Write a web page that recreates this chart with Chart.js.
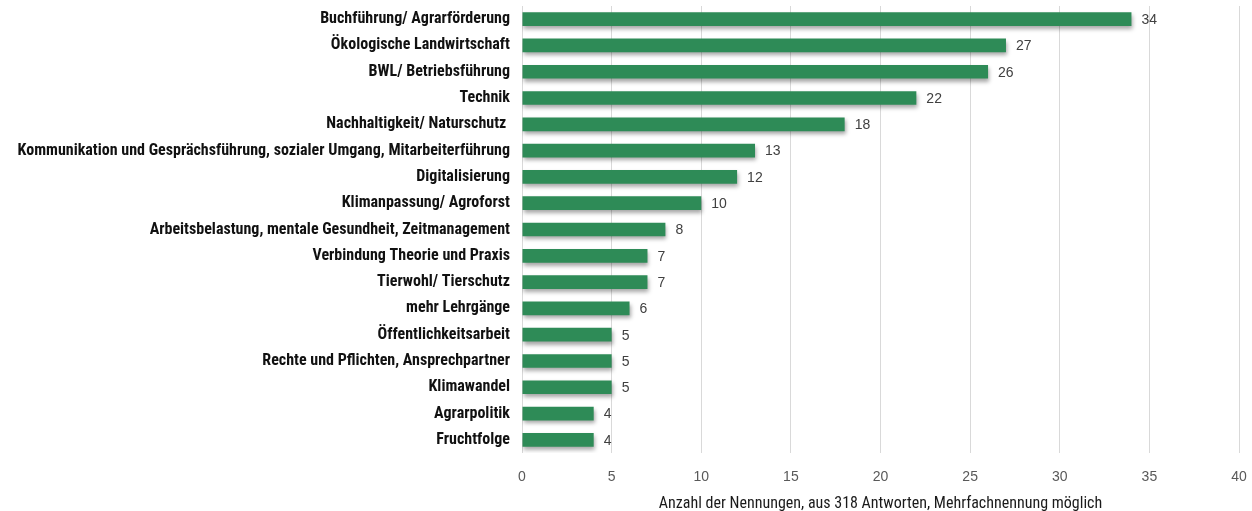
<!DOCTYPE html>
<html>
<head>
<meta charset="utf-8">
<script src="https://cdn.jsdelivr.net/npm/chart.js@4/dist/chart.umd.min.js"></script>
<style>
  html, body { margin: 0; padding: 0; background: #fff; }
  #wrap { width: 1252px; height: 511px; position: relative; }
</style>
</head>
<body>
<div id="wrap"><canvas id="chart"></canvas></div>
<script>
const categories = [
    'Buchführung/ Agrarförderung',
    'Ökologische Landwirtschaft',
    'BWL/ Betriebsführung',
    'Technik',
    'Nachhaltigkeit/ Naturschutz ',
    'Kommunikation und Gesprächsführung, sozialer Umgang, Mitarbeiterführung',
    'Digitalisierung',
    'Klimanpassung/ Agroforst',
    'Arbeitsbelastung, mentale Gesundheit, Zeitmanagement',
    'Verbindung Theorie und Praxis',
    'Tierwohl/ Tierschutz',
    'mehr Lehrgänge',
    'Öffentlichkeitsarbeit',
    'Rechte und Pflichten, Ansprechpartner',
    'Klimawandel',
    'Agrarpolitik',
    'Fruchtfolge'
];
const mentions = [34, 27, 26, 22, 18, 13, 12, 10, 8, 7, 7, 6, 5, 5, 5, 4, 4];
const axisTitle = 'Anzahl der Nennungen, aus 318 Antworten, Mehrfachnennung möglich';

const barShadow = {
    id: 'barShadow',
    beforeDatasetDraw(chart) {
        const ctx = chart.ctx;
        ctx.save();
        ctx.shadowColor = 'rgba(0,0,0,0.35)';
        ctx.shadowBlur = 4;
        ctx.shadowOffsetX = 1;
        ctx.shadowOffsetY = 3;
    },
    afterDatasetDraw(chart) {
        chart.ctx.restore();
    }
};

const valueLabels = {
    id: 'valueLabels',
    afterDatasetsDraw(chart) {
        const ctx = chart.ctx;
        const meta = chart.getDatasetMeta(0);
        ctx.save();
        ctx.font = '14px "Liberation Sans", Arial, sans-serif';
        ctx.fillStyle = '#404040';
        ctx.textAlign = 'left';
        ctx.textBaseline = 'middle';
        meta.data.forEach((bar, i) => {
            ctx.fillText(String(mentions[i]), bar.x + 10, bar.y + 1);
        });
        ctx.restore();
    }
};

new Chart(document.getElementById('chart'), {
    type: 'bar',
    data: {
        labels: categories,
        datasets: [{
            data: mentions,
            backgroundColor: '#2e8b57',
            barPercentage: 0.52,
            categoryPercentage: 1.0
        }]
    },
    options: {
        indexAxis: 'y',
        responsive: true,
        maintainAspectRatio: false,
        animation: false,
        layout: { padding: { top: 6, right: 13, bottom: 0, left: 0 } },
        plugins: {
            legend: { display: false },
            tooltip: { enabled: false }
        },
        scales: {
            x: {
                min: 0,
                max: 40,
                ticks: {
                    stepSize: 5,
                    color: '#595959',
                    padding: 16,
                    font: { family: '"Liberation Sans", Arial, sans-serif', size: 14 }
                },
                grid: { color: '#d9d9d9', drawTicks: false },
                border: { display: false },
                title: {
                    display: true,
                    text: axisTitle,
                    color: '#1a1a1a',
                    padding: { top: 0, bottom: -3 },
                    font: { family: '"Liberation Sans Narrow", "Roboto Condensed", sans-serif', size: 16 }
                },
                afterFit(scale) {
                    scale.height = 58;
                    scale.paddingLeft = 0;
                    scale.paddingRight = 0;
                }
            },
            y: {
                ticks: {
                    color: '#111',
                    padding: 12,
                    font: { family: '"Liberation Sans Narrow", "Roboto Condensed", sans-serif', size: 16, weight: 'bold' }
                },
                grid: { display: false, drawTicks: false },
                border: { display: false },
                afterFit(scale) {
                    scale.width = 522;
                    scale.paddingTop = 0;
                    scale.paddingBottom = 0;
                }
            }
        }
    },
    plugins: [barShadow, valueLabels]
});
</script>
</body>
</html>
